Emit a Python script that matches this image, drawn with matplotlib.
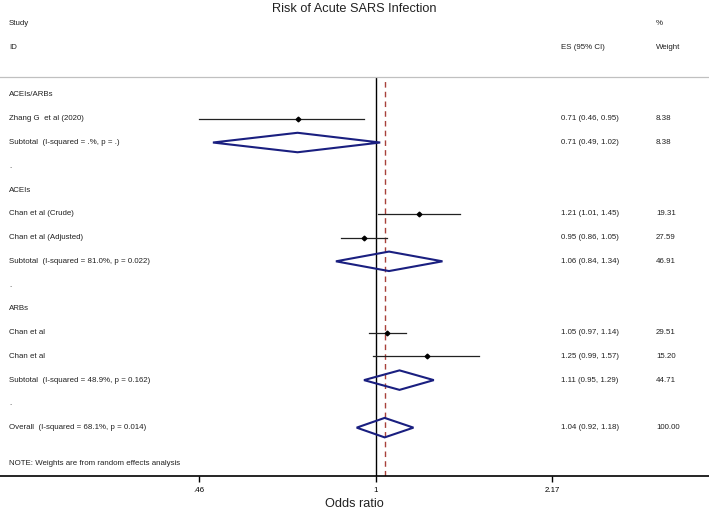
import matplotlib
matplotlib.use("Agg")
import matplotlib.pyplot as plt
from matplotlib.patches import Polygon

plt.rcParams['font.family'] = ['Liberation Sans', 'DejaVu Sans']

# ---- data ----
row_labels = [
    "ACEIs/ARBs",
    "Zhang G  et al (2020)",
    "Subtotal  (I-squared = .%, p = .)",
    ".",
    "ACEIs",
    "Chan et al (Crude)",
    "Chan et al (Adjusted)",
    "Subtotal  (I-squared = 81.0%, p = 0.022)",
    ".",
    "ARBs",
    "Chan et al",
    "Chan et al",
    "Subtotal  (I-squared = 48.9%, p = 0.162)",
    ".",
    "Overall  (I-squared = 68.1%, p = 0.014)",
]
# row kind: h=header, s=study, d=diamond (pooled), b=blank
row_kind = ["h", "s", "d", "b", "h", "s", "s", "d", "b", "h", "s", "s", "d", "b", "d"]
es = [None, 0.71, 0.71, None, None, 1.21, 0.95, 1.06, None, None, 1.05, 1.25, 1.11, None, 1.04]
ci_low = [None, 0.46, 0.49, None, None, 1.01, 0.86, 0.84, None, None, 0.97, 0.99, 0.95, None, 0.92]
ci_high = [None, 0.95, 1.02, None, None, 1.45, 1.05, 1.34, None, None, 1.14, 1.57, 1.29, None, 1.18]
weights = [None, "8.38", "8.38", None, None, "19.31", "27.59", "46.91", None, None,
           "29.51", "15.20", "44.71", None, "100.00"]
es_text = [None, "0.71 (0.46, 0.95)", "0.71 (0.49, 1.02)", None, None, "1.21 (1.01, 1.45)",
           "0.95 (0.86, 1.05)", "1.06 (0.84, 1.34)", None, None, "1.05 (0.97, 1.14)",
           "1.25 (0.99, 1.57)", "1.11 (0.95, 1.29)", None, "1.04 (0.92, 1.18)"]
overall_es = 1.04
tick_vals = [0.46, 1, 2.17]
tick_labels = [".46", "1", "2.17"]
note = "NOTE: Weights are from random effects analysis"

# ---- figure ----
W, H = 709, 513
fig = plt.figure(figsize=(W / 100, H / 100), dpi=100)
top_px, bot_px = 77, 475.7
ax = fig.add_axes([0, 1 - bot_px / H, 1, (bot_px - top_px) / H])

row0_px, row_step = 95.0, 23.76
ax.set_ylim((bot_px - row0_px) / row_step, (top_px - row0_px) / row_step)
ax.set_xscale("log")
k = 177 / 0.3369
x_one = 375.7
ax.set_xlim(10 ** (-x_one / k), 10 ** ((W - x_one) / k))

navy = "#1a1f80"
fs = 5.7
tc = "#222222"
tr = ax.get_yaxis_transform()

ax.axvline(1, color="black", lw=1.0, zorder=1)
ax.axvline(overall_es, color="#a8413a", lw=1.0, ls=(0, (4, 3)), zorder=1)

for i, kind in enumerate(row_kind):
    ax.text(9 / W, i, row_labels[i], transform=tr, fontsize=fs, va="center", ha="left", color=tc)
    if kind == "s":
        ax.plot([ci_low[i], ci_high[i]], [i, i], color="#222222", lw=0.9, zorder=2)
        ax.plot([es[i]], [i], marker="D", color="black", ms=2.4, zorder=3)
    elif kind == "d":
        h = 0.41
        poly = Polygon([(ci_low[i], i), (es[i], i - h), (ci_high[i], i), (es[i], i + h)],
                       closed=True, fill=False, edgecolor=navy, lw=1.5, zorder=3)
        ax.add_patch(poly)
    if es_text[i]:
        ax.text(561 / W, i, es_text[i], transform=tr, fontsize=fs, va="center", ha="left", color=tc)
        ax.text(656 / W, i, weights[i], transform=tr, fontsize=fs, va="center", ha="left", color=tc)

ax.text(9 / W, 15.5, note, transform=tr, fontsize=fs, va="center", ha="left", color=tc)

# column headers
ax.text(9 / W, -3, "Study", transform=tr, fontsize=fs, va="center", ha="left", clip_on=False, color=tc)
ax.text(9 / W, -2, "ID", transform=tr, fontsize=fs, va="center", ha="left", clip_on=False, color=tc)
ax.text(561 / W, -2, "ES (95% CI)", transform=tr, fontsize=fs, va="center", ha="left", clip_on=False, color=tc)
ax.text(656 / W, -3, "%", transform=tr, fontsize=fs, va="center", ha="left", clip_on=False, color=tc)
ax.text(656 / W, -2, "Weight", transform=tr, fontsize=fs, va="center", ha="left", clip_on=False, color=tc)

fig.text(0.5, 1 - 8.5 / H, "Risk of Acute SARS Infection", fontsize=9.2, ha="center",
         va="center", color=tc)

# axes styling
for s in ["left", "right"]:
    ax.spines[s].set_visible(False)
ax.spines["top"].set_color("#c0c0c0")
ax.spines["top"].set_linewidth(0.9)
ax.spines["bottom"].set_linewidth(1.2)
ax.set_yticks([])
ax.set_xticks(tick_vals)
ax.set_xticklabels(tick_labels)
ax.minorticks_off()
ax.tick_params(axis="x", length=4, width=1, labelsize=fs, pad=4, colors="black")
ax.set_xlabel("Odds ratio", fontsize=9.2, labelpad=3, color=tc)

fig.savefig("out.png", dpi=100)
